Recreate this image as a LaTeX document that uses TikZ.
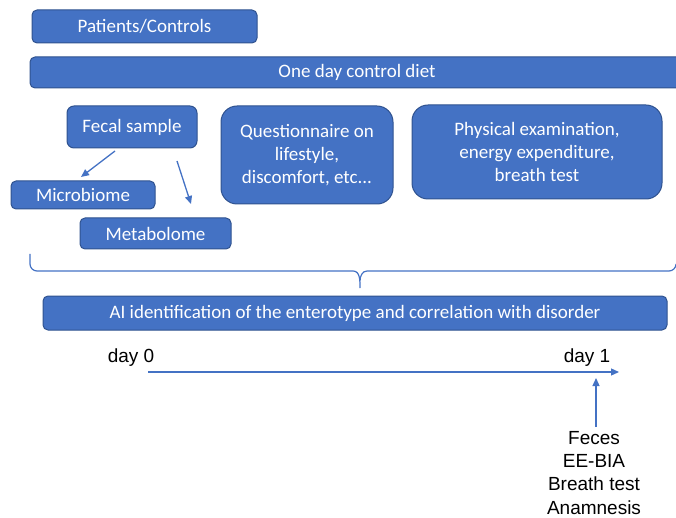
\documentclass[tikz,border=0pt]{standalone}
\usepackage{fontspec}
\setmainfont{Carlito}
\newfontfamily\arialfont{Liberation Sans}
\usetikzlibrary{arrows.meta}
\definecolor{boxfill}{HTML}{4472C4}
\definecolor{boxline}{HTML}{2F528F}
\tikzset{
  box/.style={rectangle, draw=boxline, line width=1pt, fill=boxfill,
    text=white, font=\fontsize{19}{23}\selectfont, align=center,
    rounded corners=5pt, inner sep=0pt},
  bigbox/.style={box, rounded corners=16pt},
  link/.style={draw=boxfill, line width=1.3pt,
    -{Triangle[length=8pt,width=7pt]}},
  timetext/.style={font=\arialfont\fontsize{19}{23.3}\selectfont, align=center, inner sep=0pt}
}
\begin{document}
\begin{tikzpicture}[x=1pt,y=-1pt]
\useasboundingbox (0,0) rectangle (676,518);

% top row: groups and the control diet
\node[box, minimum width=225pt, minimum height=33pt] (pat) at (144.5,26.5) {Patients/Controls};
\node[box, minimum width=654pt, minimum height=31pt] (diet) at (357,72.5) {One day control diet};

% samples and measurements
\node[box, minimum width=130pt, minimum height=42pt, rounded corners=7pt] (fecal) at (132,127) {Fecal sample};
\node[box, minimum width=144pt, minimum height=28pt] (micro) at (83,195) {Microbiome};
\node[box, minimum width=151pt, minimum height=31pt] (meta) at (155.5,233.5) {Metabolome};
\node[bigbox, minimum width=172pt, minimum height=98pt] (quest) at (307,155)
  {Questionnaire on\\lifestyle,\\discomfort, etc...};
\node[bigbox, minimum width=250pt, minimum height=94pt] (phys) at (537,152)
  {Physical examination,\\energy expenditure,\\breath test};

% fecal sample split
\coordinate (fa) at (115,151);
\coordinate (fb) at (177,161);
\coordinate (ma) at (81,177);
\coordinate (mb) at (191,204);
\draw[link] (fa) -- (ma);
\draw[link] (fb) -- (mb);

% brace gathering everything above
\coordinate (brtip) at (360,288);
\draw[boxfill, line width=1.2pt]
  (30,254) -- (30,264) to[out=-90,in=180] (37,271) -- (353,271)
  to[out=0,in=90] (brtip)
  (360,281) to[out=90,in=180] (367,271) -- (669,271) to[out=0,in=-90] (676,264);

% analysis
\node[box, minimum width=624pt, minimum height=34pt] (ai) at (355,313)
  {AI identification of the enterotype and correlation with disorder};

% timeline
\node[timetext] (d0) at (131,358) {day 0};
\node[timetext] (d1) at (587,358) {day 1};
\coordinate (t0) at (148,372);
\coordinate (t1) at (619,372);
\draw[link] (t0) -- (t1);
\node[timetext, anchor=north] (meas) at (594,431) {Feces\\EE-BIA\\Breath test\\Anamnesis};
\coordinate (up) at (596,378);
\draw[link] (596,427) -- (up);
\end{tikzpicture}
\end{document}
